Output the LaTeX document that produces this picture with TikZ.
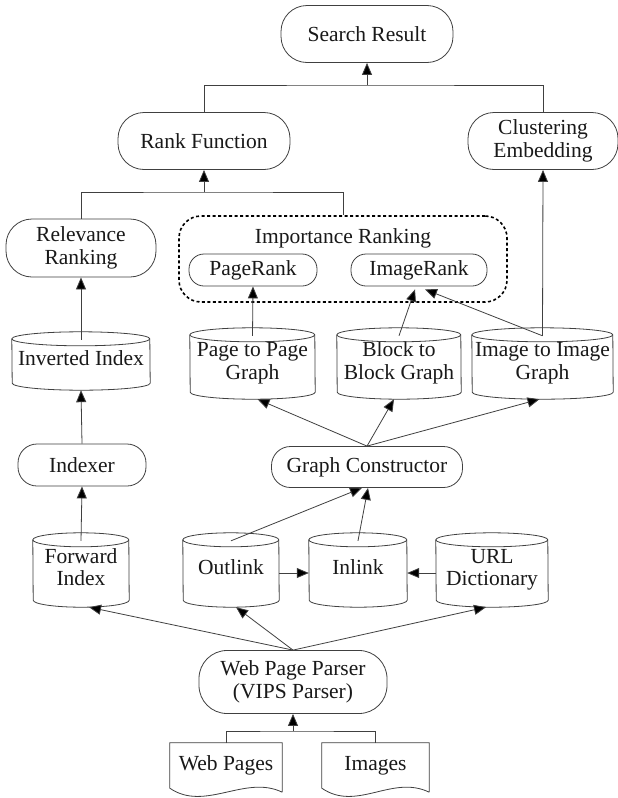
\documentclass[tikz,border=0pt]{standalone}
\usepackage{fontspec}
\setmainfont{Liberation Serif}
\usetikzlibrary{arrows.meta,calc}
\tikzset{
  ln/.style={draw=black!75, line width=0.8pt},
  arr/.style={ln, -{Triangle[length=12pt,width=10pt,fill=black]}},
  txt/.style={font=\fontsize{21.5pt}{22.5pt}\selectfont, text=black!90, align=center, inner sep=0pt},
  rbox/.style={txt, ln, rectangle, rounded corners=#1},
  cylbox/.style={txt, rectangle},
  docbox/.style={txt, rectangle},
  dashbox/.style={draw=black, line width=1.6pt, dash pattern=on 3pt off 2.5pt, rounded corners=22pt, rectangle, inner sep=0pt},
}
\newcommand\mkcyl[6]{% name, cx, cy, w, h, text
  \node[cylbox, minimum width=#4pt, minimum height=#5pt] (#1) at (#2,#3) {\raisebox{-6pt}{\begin{tabular}{@{}c@{}}#6\end{tabular}}};
  \draw[ln] ([yshift=-7pt]#1.north west) arc[start angle=180, end angle=0, x radius=#4pt/2, y radius=7pt]
     -- ([yshift=7pt]#1.south east) arc[start angle=0, end angle=-180, x radius=#4pt/2, y radius=7pt] -- cycle;
  \draw[ln] ([yshift=-7pt]#1.north west) arc[start angle=180, end angle=360, x radius=#4pt/2, y radius=7pt];
  \coordinate (#1-t) at ([yshift=-8pt]#1.north);
}
\newcommand\mkdoc[5]{% name, cx, cy, w, text
  \node[docbox, minimum width=#4pt, minimum height=45pt] (#1) at (#2,#3) {#5};
  \draw[ln] ([yshift=-4pt]#1.south east) -- (#1.north east) -- (#1.north west) -- (#1.south west)
     .. controls +(35,24) and +(-37,-18) .. ([yshift=-4pt]#1.south east);
}
\begin{document}
\begin{tikzpicture}[x=1pt,y=-1pt]
\useasboundingbox[fill=white] (0,0) rectangle (618,798);

% rounded boxes
\node[rbox=26pt, minimum width=172pt, minimum height=57pt] (sr) at (367,34) {Search Result};
\node[rbox=26pt, minimum width=172pt, minimum height=57pt] (rank) at (204,141) {Rank Function};
\node[rbox=26pt, minimum width=150pt, minimum height=57pt] (clust) at (543,141) {Clustering\\Embedding};
\node[rbox=26pt, minimum width=150pt, minimum height=58pt] (rel) at (81,248) {Relevance\\Ranking};

% importance ranking group
\node[dashbox, minimum width=328pt, minimum height=86pt] (imp) at (343,259) {};
\node[txt] (imptitle) at (343,238) {Importance Ranking};
\node[rbox=15pt, minimum width=128pt, minimum height=32pt] (pr) at (253,270) {PageRank};
\node[rbox=15pt, minimum width=136pt, minimum height=32pt] (ir) at (419,270) {ImageRank};

% cylinders
\mkcyl{inv}{81}{361}{138}{58}{Inverted Index}
\mkcyl{p2p}{252.5}{363.5}{125}{71}{Page to Page\\Graph}
\mkcyl{b2b}{399}{363.5}{124}{71}{Block to\\Block Graph}
\mkcyl{i2i}{542.5}{363.5}{141}{71}{Image to Image\\Graph}

\node[rbox=19pt, minimum width=191pt, minimum height=41pt] (gc) at (367,467) {Graph Constructor};
\node[rbox=19pt, minimum width=128pt, minimum height=42pt] (idx) at (82,465) {Indexer};

\mkcyl{fwd}{81}{570}{96}{74}{Forward\\Index}
\mkcyl{out}{231}{570}{96}{74}{Outlink}
\mkcyl{inl}{358}{570}{98}{74}{Inlink}
\mkcyl{url}{492}{570}{112}{74}{URL\\Dictionary}

\node[rbox=28pt, minimum width=188pt, minimum height=63pt] (parser) at (293,682) {Web Page Parser\\(VIPS Parser)};

\mkdoc{wp}{226}{765.5}{112}{Web Pages}
\mkdoc{img}{375.5}{765.5}{107}{Images}

% connectors
\coordinate (j1) at (367,85);
\draw[ln] (rank.north) |- (j1) -| (clust.north);
\draw[arr] (j1) -- (sr.south);

\coordinate (j2) at (204,192);
\draw[ln] (rel.north) |- (j2) -| (imp.north);
\draw[arr] (j2) -- (rank.south);

\draw[arr] (inv-t) -- (rel.south);
\draw[arr] (p2p-t) -- (pr.south);
\draw[arr] (b2b-t) -- ([xshift=-4pt,yshift=-3pt]ir.south);
\draw[arr] (i2i-t) -- ([xshift=6pt,yshift=-3pt]ir.south);
\draw[arr] (i2i-t) -- (clust.south);

\draw[arr] (gc.north) -- ([xshift=5pt]p2p.south);
\draw[arr] (gc.north) -- ([xshift=-5pt]b2b.south);
\draw[arr] (gc.north) -- ([xshift=-3pt]i2i.south);

\draw[arr] (idx.north) -- (inv.south);
\draw[arr] (fwd-t) -- (idx.south);
\draw[arr] (out-t) -- ([xshift=-5pt]gc.south);
\draw[arr] (inl-t) -- ([xshift=1pt]gc.south);
\draw[arr] ([yshift=-3pt]out.east) -- ([yshift=-3pt]inl.west);
\draw[arr] ([yshift=-3pt]url.west) -- ([yshift=-3pt]inl.east);

\draw[arr] (parser.north) -- ([xshift=8pt]fwd.south);
\draw[arr] (parser.north) -- ([xshift=5pt]out.south);
\draw[arr] (parser.north) -- ([xshift=-6pt]url.south);

\coordinate (j3) at (293,731);
\draw[ln] (wp.north) |- (j3) -| (img.north);
\draw[arr] (j3) -- (parser.south);
\end{tikzpicture}
\end{document}
